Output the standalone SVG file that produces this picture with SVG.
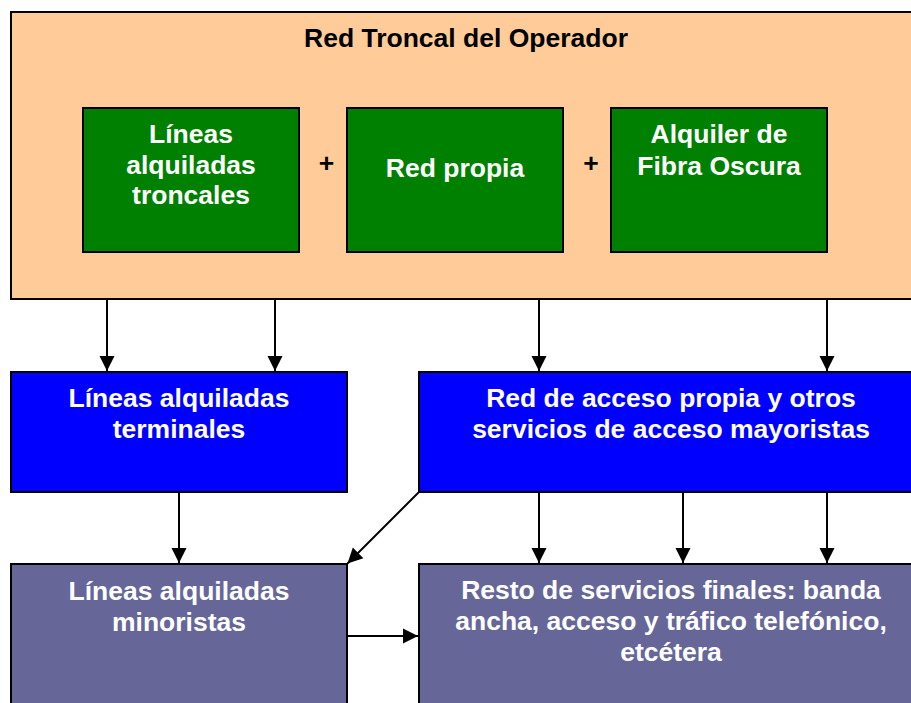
<svg xmlns="http://www.w3.org/2000/svg" width="911" height="703" viewBox="0 0 911 703">
<defs>
<style>
.box{stroke:#000;stroke-width:2}
.peach{fill:#FFCC99}
.green{fill:#008000}
.blue{fill:#0000FF}
.purple{fill:#666699}
text{font-family:"Liberation Sans",Arial,sans-serif;font-weight:bold;font-size:26.5px;text-anchor:middle}
.w{fill:#fff}
.k{fill:#000}
.conn{stroke:#000;stroke-width:2;fill:none;marker-end:url(#ah)}
</style>
<marker id="ah" markerUnits="userSpaceOnUse" markerWidth="16" markerHeight="16" viewBox="0 0 16 16" refX="15" refY="8" orient="auto">
<path d="M0,0.5 L15,8 L0,15.5 Z" fill="#000"/>
</marker>
</defs>
<rect width="911" height="703" fill="#fff"/>
<g id="red-troncal">
<rect class="box peach" x="11" y="12" width="910" height="287"/>
<text class="k" x="466" y="47">Red Troncal del Operador</text>
</g>
<g id="lineas-troncales">
<rect class="box green" x="83" y="108" width="216" height="144"/>
<text class="w" x="191" y="143">Líneas</text>
<text class="w" x="191" y="174">alquiladas</text>
<text class="w" x="191" y="204">troncales</text>
</g>
<text class="k" x="326.5" y="172">+</text>
<g id="red-propia">
<rect class="box green" x="347" y="108" width="216" height="144"/>
<text class="w" x="455" y="177">Red propia</text>
</g>
<text class="k" x="591" y="172">+</text>
<g id="fibra-oscura">
<rect class="box green" x="611" y="108" width="216" height="144"/>
<text class="w" x="719" y="143">Alquiler de</text>
<text class="w" x="719" y="175">Fibra Oscura</text>
</g>
<g id="lineas-terminales">
<rect class="box blue" x="11" y="372" width="336" height="120"/>
<text class="w" x="179" y="407">Líneas alquiladas</text>
<text class="w" x="179" y="438">terminales</text>
</g>
<g id="red-acceso">
<rect class="box blue" x="419" y="372" width="510" height="120"/>
<text class="w" x="671" y="407">Red de acceso propia y otros</text>
<text class="w" x="671" y="438">servicios de acceso mayoristas</text>
</g>
<g id="lineas-minoristas">
<rect class="box purple" x="11" y="564" width="336" height="150"/>
<text class="w" x="179" y="600">Líneas alquiladas</text>
<text class="w" x="179" y="631">minoristas</text>
</g>
<g id="resto-servicios">
<rect class="box purple" x="419" y="564" width="510" height="150"/>
<text class="w" x="671" y="599">Resto de servicios finales: banda</text>
<text class="w" x="671" y="630">ancha, acceso y tráfico telefónico,</text>
<text class="w" x="671" y="661">etcétera</text>
</g>
<g id="connectors">
<line class="conn" x1="107" y1="300" x2="107" y2="371"/>
<line class="conn" x1="275" y1="300" x2="275" y2="371"/>
<line class="conn" x1="539" y1="300" x2="539" y2="371"/>
<line class="conn" x1="827" y1="300" x2="827" y2="371"/>
<line class="conn" x1="179" y1="493" x2="179" y2="563"/>
<line class="conn" x1="419" y1="492" x2="347.5" y2="563.5"/>
<line class="conn" x1="539" y1="493" x2="539" y2="563"/>
<line class="conn" x1="683" y1="493" x2="683" y2="563"/>
<line class="conn" x1="827" y1="493" x2="827" y2="563"/>
<line class="conn" x1="348" y1="636" x2="418" y2="636"/>
</g>
</svg>
